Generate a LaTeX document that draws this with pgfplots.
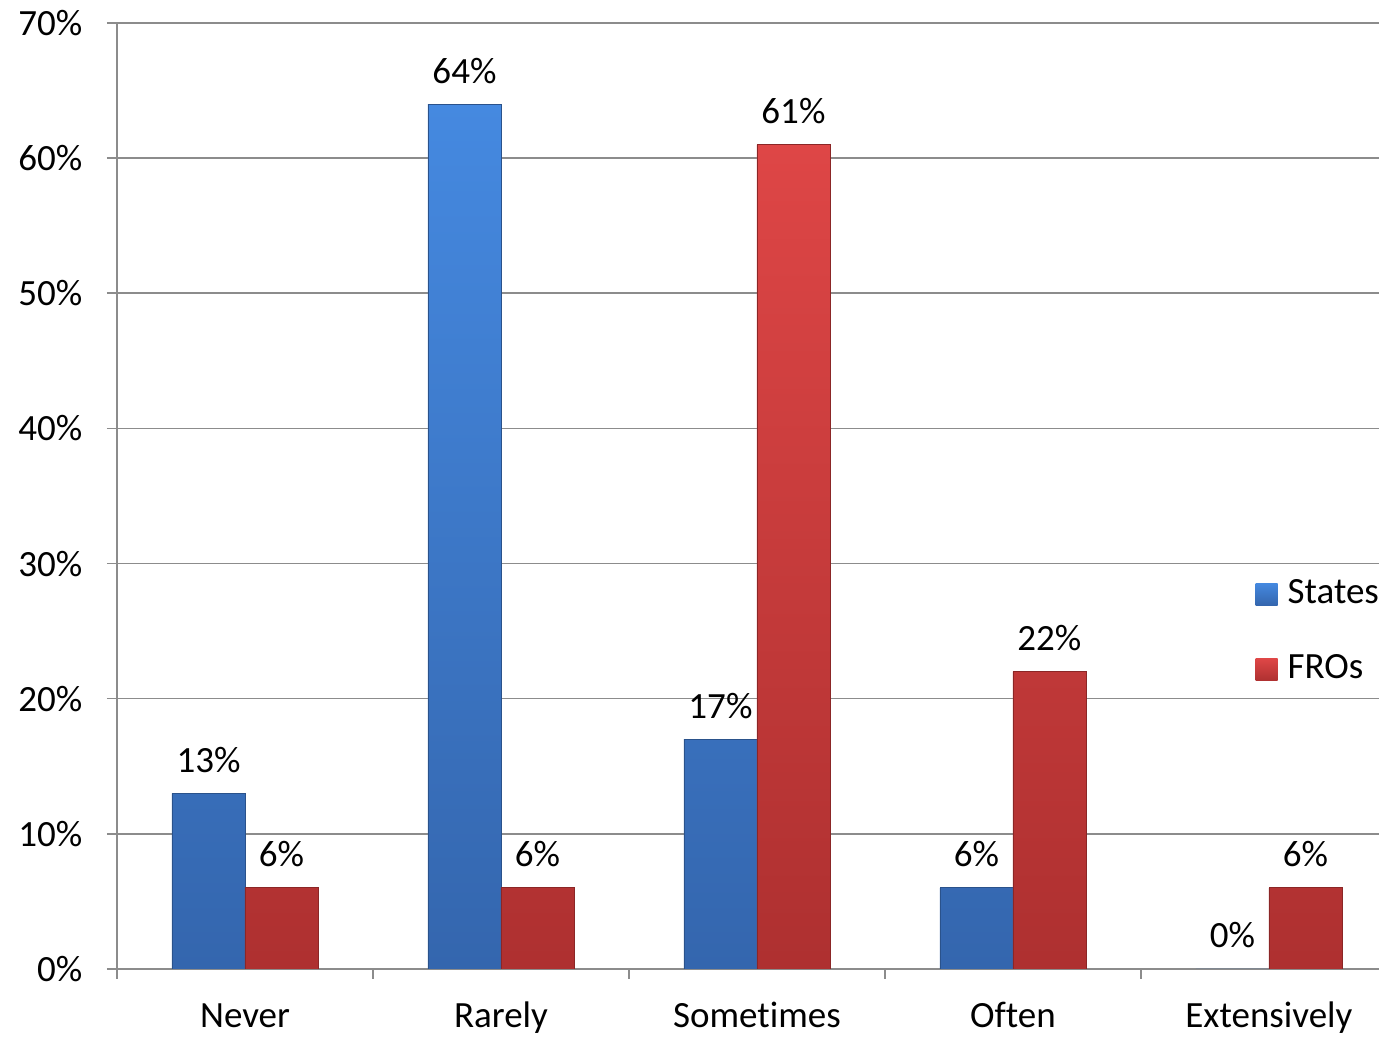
\documentclass[border=0pt]{standalone}
\usepackage{pgfplots}
\pgfplotsset{compat=1.18}
\usepackage{fontspec}
\setmainfont{Carlito}[Ligatures=NoCommon]
\definecolor{btop}{HTML}{4589E0}
\definecolor{bbot}{HTML}{3466AE}
\definecolor{rtop}{HTML}{DE4646}
\definecolor{rbot}{HTML}{AE3030}
\definecolor{gridc}{HTML}{8C8C8C}
\begin{document}
\fontsize{18.5}{22}\selectfont
\begin{tikzpicture}
\begin{axis}[
  scale only axis, width=631pt, height=473pt,
  xmin=-0.5, xmax=4.43, ymin=0, ymax=70,
  ybar=0pt, bar width=36.5pt,
  axis x line*=bottom, axis y line*=left,
  axis line style={gridc, line width=0.8pt},
  ymajorgrids, grid style={gridc, line width=0.8pt},
  ytick={0,10,...,70},
  yticklabel={\pgfmathprintnumber{\tick}\%},
  /pgf/number format/assume math mode=true,
  xtick={0,1,2,3,4},
  xticklabels={Never,Rarely,Sometimes,Often,Extensively},
  major x tick style={draw=none},
  minor xtick={-0.5,0.5,1.5,2.5,3.5},
  minor x tick style={gridc, line width=0.8pt},
  minor tick length=5pt,
  major tick length=5pt,
  tick align=outside,
  y tick style={gridc, line width=0.8pt},
  xticklabel style={yshift=-5pt, text height=0.7em, text depth=0.25em},
  yticklabel style={xshift=-6pt},
  nodes near coords={\pgfmathprintnumber{\pgfplotspointmeta}\%},
  every node near coord/.append style={yshift=4pt, black},
  legend style={at={(rel axis cs:0.902,0.4165)}, anchor=north west, draw=none, fill=none,
    row sep=19pt, inner sep=0pt, cells={anchor=west}, nodes={inner xsep=5pt}},
  legend image code/.code={\draw[#1, draw=none] (0pt,-5.5pt) rectangle (11pt,5.5pt);},
]
\addplot[draw=bbot!80!black, line width=0.4pt, top color=btop, bottom color=bbot] coordinates {(0,13) (1,64) (2,17) (3,6) (4,0)};
\addplot[draw=rbot!80!black, line width=0.4pt, top color=rtop, bottom color=rbot] coordinates {(0,6) (1,6) (2,61) (3,22) (4,6)};
\legend{States,FROs}
\coordinate (bl) at ([xshift=-58.5pt,yshift=-35pt]rel axis cs:0,0);
\coordinate (tr) at ([yshift=11.5pt]rel axis cs:1,1);
\end{axis}
\pgfresetboundingbox
\path (bl) rectangle (tr);
\end{tikzpicture}
\end{document}
